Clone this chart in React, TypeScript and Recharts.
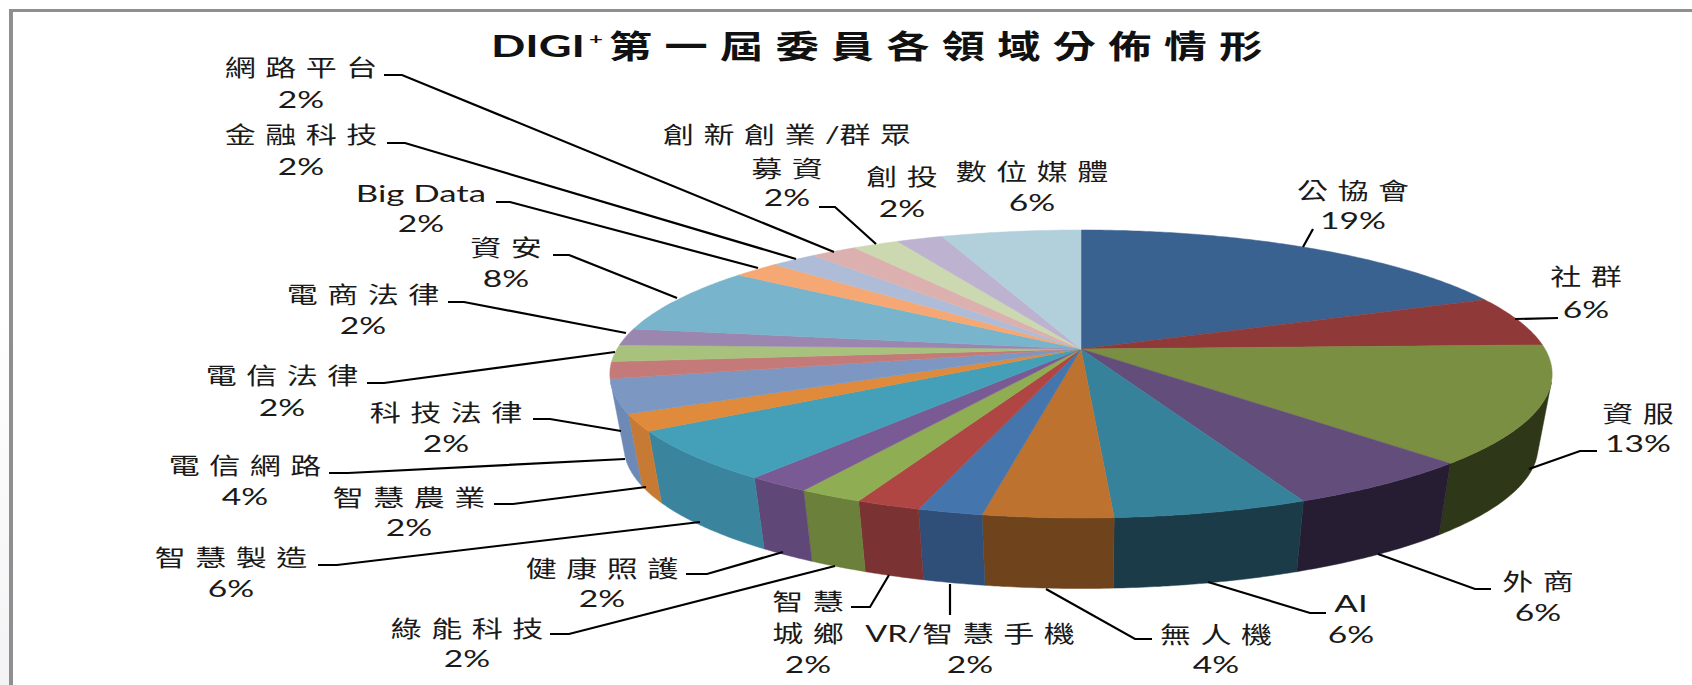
import React from "react";
import { PieChart, Pie, Cell } from "recharts";

// ---- data -------------------------------------------------------------
const categories = [
  "公協會", "社群", "資服", "外商", "AI", "無人機", "VR/智慧手機", "智慧\n城鄉",
  "綠能科技", "健康照護", "智慧製造", "智慧農業", "電信網路", "科技法律", "電信法律",
  "電商法律", "資安", "Big Data", "金融科技", "網路平台", "創新創業/群眾\n募資", "創投", "數位媒體",
];
const counts = [10, 3, 7, 3, 3, 2, 1, 1, 1, 1, 3, 1, 2, 1, 1, 1, 4, 1, 1, 1, 1, 1, 3];

// ---- styles -----------------------------------------------------------
const topColors = [
  "#3a6291", "#8f3a38", "#7a8f41", "#634d7b", "#37829b", "#bd7230", "#4475ad", "#af4643",
  "#8fad52", "#7a5a95", "#43a0b8", "#e08a3c", "#7c98c2", "#c47a78", "#a8c27e", "#9b86b0",
  "#78b4cb", "#f5a873", "#aebcd8", "#dcb0ae", "#cbd8b0", "#bdb2cf", "#b2d0dc",
];
const wallColors = [
  "#2c4a6e", "#5e2524", "#2e3717", "#261d33", "#1a3b47", "#6f441c", "#2f4e78", "#7a3232",
  "#6b803a", "#5f4777", "#3a859d", "#c77a33", "#6d8ab7", "#b06a68", "#95ad6c", "#8a7aa0",
  "#68a0b5", "#dd9660", "#9aa8c4", "#c69c9a", "#b5c29c", "#a89ebb", "#9ebac6",
];

// label placement: centre x, baselines (name lines then percent), leader points
const labelLayout: { x: number; ys: number[]; leader?: number[][] }[] = [
  { x: 1353, ys: [199, 229], leader: [[1313, 229], [1303, 247]] },
  { x: 1586, ys: [285, 318], leader: [[1558, 318], [1515, 319]] },
  { x: 1638, ys: [422, 452], leader: [[1597, 451], [1580, 451], [1529, 469]] },
  { x: 1538, ys: [590, 621], leader: [[1491, 589], [1475, 589], [1378, 554]] },
  { x: 1351, ys: [612, 643], leader: [[1326, 613], [1310, 613], [1208, 582]] },
  { x: 1216, ys: [643, 673], leader: [[1152, 639], [1135, 639], [1046, 589]] },
  { x: 970, ys: [642, 673], leader: [[950, 615], [950, 584]] },
  { x: 808, ys: [610, 642, 673], leader: [[851, 607], [870, 607], [889, 575]] },
  { x: 467, ys: [637, 667], leader: [[550, 634], [569, 634], [835, 566]] },
  { x: 602, ys: [577, 607], leader: [[686, 574], [707, 574], [783, 552]] },
  { x: 231, ys: [566, 597], leader: [[318, 565], [337, 565], [700, 522]] },
  { x: 409, ys: [506, 536], leader: [[494, 504], [513, 504], [646, 487]] },
  { x: 245, ys: [474, 505], leader: [[329, 473], [348, 473], [625, 459]] },
  { x: 446, ys: [421, 452], leader: [[533, 419], [550, 419], [621, 431]] },
  { x: 282, ys: [384, 416], leader: [[367, 383], [384, 383], [615, 352]] },
  { x: 363, ys: [303, 334], leader: [[448, 302], [464, 302], [626, 333]] },
  { x: 506, ys: [256, 287], leader: [[553, 255], [569, 255], [677, 298]] },
  { x: 421, ys: [202, 232], leader: [[496, 202], [510, 202], [758, 268]] },
  { x: 301, ys: [143, 175], leader: [[387, 143], [405, 143], [796, 259]] },
  { x: 301, ys: [76, 108], leader: [[384, 75], [402, 75], [834, 252]] },
  { x: 787, ys: [143, 177, 206], leader: [[819, 207], [835, 207], [876, 244]] },
  { x: 902, ys: [185, 217] },
  { x: 1032, ys: [180, 211] },
];

const tableData = categories.map((name, i) => ({ name, value: counts[i] }));
const total = counts.reduce((a, b) => a + b, 0);

// ---- perspective projection of the pie disc ----------------------------
const CX = 1081;
const CY = 349;
const RADIUS = 464;
const PERSPECTIVE = 0.1736;
const FLATTEN = 0.301;
const RIM_CY = 422;
const RIM_SX = 0.97;
const RIM_SY = 0.985;
const WALL_VISIBLE_BELOW = -0.22;

const project = (cx: number, cy: number, r: number, deg: number) => {
  const a = (deg * Math.PI) / 180;
  const u = Math.cos(a);
  const v = Math.sin(a);
  const w = 1 + PERSPECTIVE * v;
  return [cx + (r * u) / w, cy - (r * FLATTEN * v) / w];
};
const rim = (cx: number, cy: number, p: number[]) => [
  cx + RIM_SX * (p[0] - cx),
  RIM_CY + RIM_SY * (p[1] - cy),
];
const sampleAngles = (start: number, end: number) => {
  const n = Math.max(2, Math.ceil(Math.abs(end - start)) * 2);
  return Array.from({ length: n + 1 }, (_, i) => start + ((end - start) * i) / n);
};
const toPath = (pts: number[][]) =>
  pts.map((p, i) => `${i ? "L" : "M"}${p[0].toFixed(1)},${p[1].toFixed(1)}`).join(" ");

const TopShape = (props: any) => {
  const { cx, cy, outerRadius, startAngle, endAngle, fill } = props;
  const arc = sampleAngles(startAngle, endAngle).map((d) => project(cx, cy, outerRadius, d));
  return <path d={`M${cx},${cy} ${toPath(arc).replace("M", "L")} Z`} fill={fill} stroke={fill} strokeWidth={0.5} />;
};

const WallShape = (props: any) => {
  const { cx, cy, outerRadius, startAngle, endAngle, fill } = props;
  const angles = sampleAngles(startAngle, endAngle).filter(
    (d) => Math.sin((d * Math.PI) / 180) < WALL_VISIBLE_BELOW
  );
  if (angles.length < 2) return <g />;
  const upper = angles.map((d) => project(cx, cy, outerRadius, d));
  const lower = upper.map((p) => rim(cx, cy, p)).reverse();
  return <path d={`${toPath(upper)} ${toPath(lower).replace("M", "L")} Z`} fill={fill} stroke={fill} strokeWidth={0.5} />;
};

// ---- stretched text (the source picture is stretched horizontally) ------
const CJK_FONT = "'Noto Sans CJK TC', sans-serif";
const LATIN_FONT = "Lato, sans-serif";
const TEXT_COLOR = "#1a1a1a";

const runsOf = (line: string) => line.match(/[\x00-\x7f]+|[^\x00-\x7f]+/g) || [];

const StretchedLine = ({ x, y, text, size = 23, spacing = 7, sx = 1.35, latinSize = 24 }: any) => {
  const endsCjk = /[^\x00-\x7f]$/.test(text);
  return (
    <text
      transform={`translate(${x + (endsCjk ? (spacing * sx) / 2 : 0)},${y}) scale(${sx},1)`}
      textAnchor="middle"
      fill={TEXT_COLOR}
    >
      {runsOf(text).map((run, i) =>
        /^[\x00-\x7f]/.test(run) ? (
          <tspan key={i} fontFamily={LATIN_FONT} fontSize={latinSize}>{run}</tspan>
        ) : (
          <tspan key={i} fontFamily={CJK_FONT} fontSize={size} letterSpacing={spacing}>{run}</tspan>
        )
      )}
    </text>
  );
};

const SliceLabel = (props: any) => {
  const i = props.index as number;
  const layout = labelLayout[i];
  const lines = categories[i].split("\n");
  const pct = `${Math.round((counts[i] / total) * 100)}%`;
  return (
    <g>
      {layout.leader && (
        <polyline
          points={layout.leader.map((p) => p.join(",")).join(" ")}
          fill="none"
          stroke="#000"
          strokeWidth={2.2}
        />
      )}
      {lines.map((line, k) => (
        <StretchedLine
          key={k}
          x={layout.x}
          y={layout.ys[k]}
          text={line}
          sx={/^[\x00-\x7f]+$/.test(line) ? 1.45 : 1.35}
        />
      ))}
      <StretchedLine x={layout.x} y={layout.ys[lines.length]} text={pct} sx={1.4} />
    </g>
  );
};

const Title = () => (
  <g>
    <text x={491} y={57} fontFamily={LATIN_FONT} fontSize={31} fontWeight={700} fill="#111"
      textLength={94} lengthAdjust="spacingAndGlyphs">DIGI</text>
    <text transform="translate(596,44) scale(1.5,1)" textAnchor="middle" fontFamily={LATIN_FONT}
      fontSize={16} fontWeight={700} fill="#111">+</text>
    <text transform="translate(609,58) scale(1.35,1)" fontFamily={CJK_FONT} fontSize={32} fontWeight={700}
      letterSpacing={9.1} fill="#111">第一屆委員各領域分佈情形</text>
  </g>
);

export default function App() {
  return (
    <div
      style={{
        position: "absolute",
        left: 0,
        top: 0,
        width: 1692,
        height: 685,
        overflow: "hidden",
        background: "linear-gradient(to bottom, #ffffff 45%, #f3f3f5 100%)",
      }}
    >
      <div
        style={{
          position: "absolute",
          left: 9,
          top: 9,
          width: 1700,
          height: 700,
          background: "#fff",
          borderLeft: "4px solid #8f8f8f",
          borderTop: "3px solid #8f8f8f",
        }}
      />
      <div style={{ position: "absolute", left: 0, top: 0 }}>
        <PieChart width={1692} height={685} margin={{ top: 0, right: 0, bottom: 0, left: 0 }}>
          <Pie
            data={tableData}
            dataKey="value"
            nameKey="name"
            cx={CX}
            cy={CY}
            outerRadius={RADIUS}
            startAngle={90}
            endAngle={-270}
            isAnimationActive={false}
            stroke="none"
            shape={WallShape}
            label={false}
            labelLine={false}
          >
            {wallColors.map((c, i) => <Cell key={i} fill={c} />)}
          </Pie>
          <Pie
            data={tableData}
            dataKey="value"
            nameKey="name"
            cx={CX}
            cy={CY}
            outerRadius={RADIUS}
            startAngle={90}
            endAngle={-270}
            isAnimationActive={false}
            stroke="none"
            shape={TopShape}
            label={SliceLabel}
            labelLine={false}
          >
            {topColors.map((c, i) => <Cell key={i} fill={c} />)}
          </Pie>
          <Title />
        </PieChart>
      </div>
    </div>
  );
}
